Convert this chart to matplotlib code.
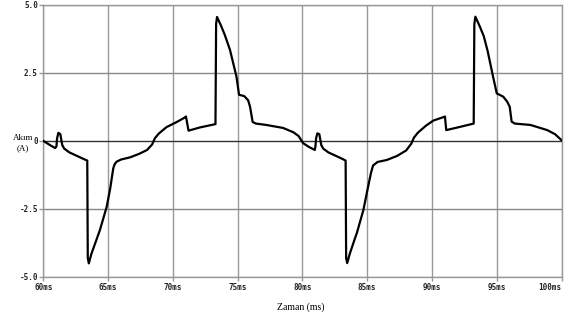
import numpy as np
import matplotlib
matplotlib.use("Agg")
import matplotlib.pyplot as plt

# current waveform (time in ms, current in A)
t_ms = [60.0, 60.5, 60.9, 61.0, 61.05, 61.15, 61.3, 61.45, 61.6, 62.0, 62.5, 63.0, 63.38,
        63.42, 63.5, 63.7, 64.0, 64.36, 64.88, 65.15, 65.39, 65.5, 65.65, 66.0, 66.7, 67.4,
        68.0, 68.4, 68.6, 68.9, 69.5, 70.3, 70.9, 71.0, 71.2, 72.1, 73.28, 73.33, 73.4,
        73.7, 74.0, 74.4, 74.9, 75.1, 75.5, 75.8, 75.95, 76.15, 76.4, 77.2, 78.5, 79.3,
        79.7, 80.05, 80.5, 80.95, 81.0, 81.05, 81.15, 81.3, 81.45, 81.6, 82.0, 82.5,
        83.0, 83.33, 83.37, 83.45, 83.65, 84.0, 84.2, 84.7, 85.1, 85.3, 85.45, 85.8, 86.5,
        87.3, 88.0, 88.4, 88.6, 88.9, 89.5, 90.1, 90.9, 91.0, 91.1, 92.0, 93.22,
        93.27, 93.35, 93.7, 94.0, 94.3, 94.7, 95.0, 95.5, 95.8, 96.0, 96.15, 96.4, 97.6,
        98.9, 99.5, 100.0]
i_amp = [0.0, -0.15, -0.26, -0.2, 0.1, 0.3, 0.25, -0.15, -0.28, -0.42, -0.53, -0.64, -0.72,
         -4.3, -4.5, -4.15, -3.75, -3.27, -2.42, -1.75, -1.0, -0.85, -0.76, -0.68, -0.6, -0.47,
         -0.33, -0.12, 0.1, 0.27, 0.51, 0.7, 0.86, 0.9, 0.38, 0.5, 0.62, 4.3, 4.56,
         4.25, 3.9, 3.35, 2.37, 1.7, 1.65, 1.5, 1.26, 0.7, 0.64, 0.59, 0.48, 0.32,
         0.18, -0.08, -0.22, -0.33, -0.2, 0.1, 0.28, 0.25, -0.15, -0.28, -0.42, -0.53,
         -0.64, -0.72, -4.3, -4.49, -4.15, -3.65, -3.38, -2.54, -1.6, -1.15, -0.9, -0.77, -0.7,
         -0.55, -0.35, -0.1, 0.12, 0.3, 0.55, 0.75, 0.88, 0.9, 0.4, 0.5, 0.64,
         4.3, 4.57, 4.2, 3.85, 3.3, 2.4, 1.75, 1.63, 1.45, 1.26, 0.71, 0.64, 0.59,
         0.4, 0.25, 0.03]

x_ticks = [60, 65, 70, 75, 80, 85, 90, 95, 100]
x_labels = ["60ms", "65ms", "70ms", "75ms", "80ms", "85ms", "90ms", "95ms", "100ms"]
y_ticks = [-5.0, -2.5, 0.0, 2.5, 5.0]
y_labels = ["-5.0", "-2.5", "0", "2.5", "5.0"]

fig = plt.figure(figsize=(5.67, 3.22), dpi=100)
ax = fig.add_axes([0.0767, 0.1398, 0.9136, 0.8447])

for x in x_ticks:
    ax.axvline(x, color="#999999", lw=1.0, zorder=1)
for y in y_ticks:
    ax.axhline(y, color="#333333" if y == 0 else "#888888", lw=1.0, zorder=1)

ax.plot(t_ms, i_amp, color="black", lw=1.6, zorder=3)

ax.set_xlim(60, 100)
ax.set_ylim(-5, 5)
ax.set_xticks(x_ticks)
ax.set_xticklabels(x_labels)
ax.set_yticks(y_ticks)
ax.set_yticklabels(y_labels)
for s in ax.spines.values():
    s.set_color("#999999")
    s.set_linewidth(1.0)
ax.tick_params(axis="both", length=3, width=1, color="#999999", pad=1,
               labelsize=5.5)
for lab in ax.get_xticklabels() + ax.get_yticklabels():
    lab.set_family("DejaVu Sans Mono")
    lab.set_fontweight("bold")
    lab.set_color("#222222")
ax.get_xticklabels()[-1].set_ha("right")

fig.text(0.040, 0.555, "Akım\n(A)", ha="center", va="center",
         family="Liberation Serif", fontsize=6.5, linespacing=1.3)
fig.text(0.53, 0.045, "Zaman (ms)", ha="center", va="center",
         family="Liberation Serif", fontsize=7)

fig.savefig("out.png", dpi=100)
